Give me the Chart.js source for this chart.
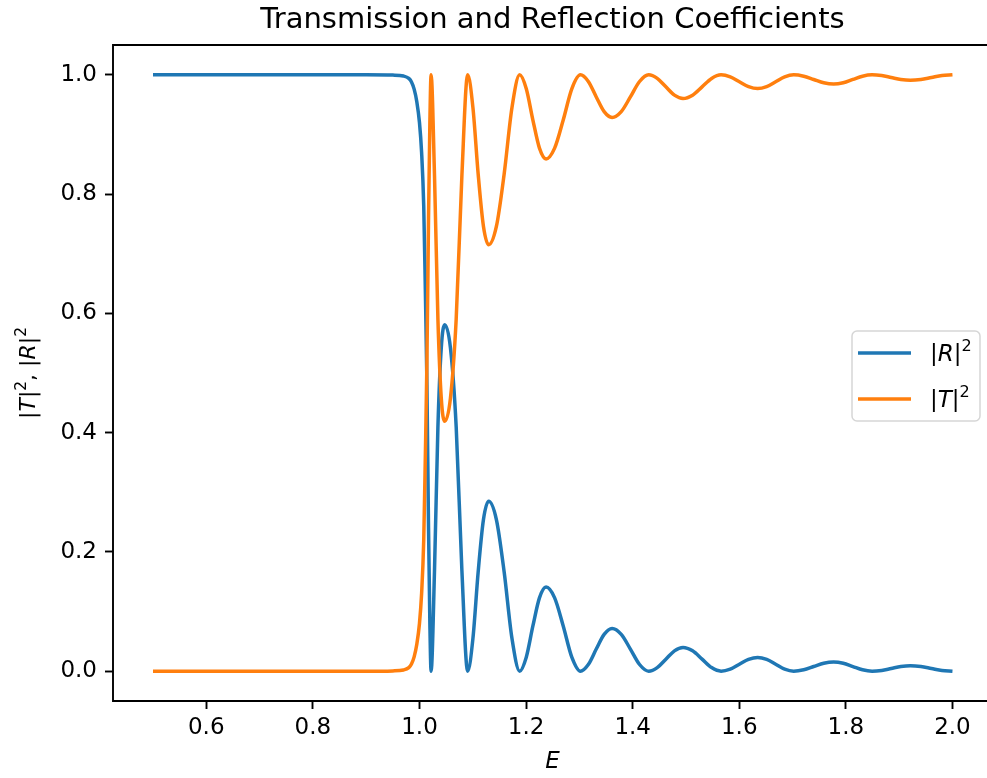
<!DOCTYPE html>
<html>
<head>
<meta charset="utf-8">
<script src="https://cdn.jsdelivr.net/npm/chart.js@4.4.1/dist/chart.umd.min.js"></script>
<style>
  body { margin: 0; overflow: hidden; background: #fff; }
</style>
</head>
<body>
<canvas id="myChart" width="987" height="778"></canvas>
<script>
// Energia (eje x) y coeficientes
var energy = [
  0.5, 0.6, 0.7, 0.8, 0.9, 0.95, 0.97, 0.98, 0.985, 0.99, 0.995, 1.0, 1.004, 1.008, 1.011, 1.014, 1.017, 1.0195, 1.0218,
  1.0282, 1.0346, 1.0409, 1.0473, 1.0581, 1.0689, 1.0796, 1.0904,
  1.1003, 1.1101, 1.12, 1.1298, 1.1444, 1.1589, 1.1735, 1.188,
  1.2004, 1.2128, 1.2251, 1.2375, 1.2536, 1.2697, 1.2858, 1.3019,
  1.3168, 1.3317, 1.3465, 1.3614, 1.3786, 1.3957, 1.4129, 1.43,
  1.4461, 1.4623, 1.4784, 1.4945, 1.5124, 1.5302, 1.5481, 1.5659,
  1.5831, 1.6002, 1.6174, 1.6345, 1.6514, 1.6683, 1.6852, 1.7021,
  1.7209, 1.7396, 1.7584, 1.7771, 1.7951, 1.8132, 1.8312, 1.8492,
  1.8672, 1.8851, 1.9031, 1.921, 1.9408, 1.9605, 1.9803, 2.0
];

var reflection = [
  1, 1, 1, 1, 1, 0.9995, 0.998, 0.994, 0.988, 0.976, 0.955, 0.92, 0.87, 0.78, 0.64, 0.48, 0.24, 0.08, 0.0,
  0.1688, 0.4095, 0.5421, 0.581, 0.5421, 0.4095, 0.1688, 0,
  0.0551, 0.1662, 0.2539, 0.285, 0.2539, 0.1662, 0.0551, 0,
  0.0235, 0.0758, 0.1229, 0.141, 0.1229, 0.0758, 0.0235, 0,
  0.0112, 0.0371, 0.0617, 0.0715, 0.0617, 0.0371, 0.0112, 0,
  0.006, 0.0202, 0.0341, 0.0397, 0.0341, 0.0202, 0.006, 0,
  0.0034, 0.0116, 0.0197, 0.023, 0.0197, 0.0116, 0.0034, 0,
  0.0023, 0.0078, 0.0134, 0.0156, 0.0134, 0.0078, 0.0023, 0,
  0.0013, 0.0045, 0.0077, 0.009, 0.0077, 0.0045, 0.0013, 0
];

var transmission = [
  0, 0, 0, 0, 0, 0.0005, 0.002, 0.006, 0.012, 0.024, 0.045, 0.08, 0.13, 0.22, 0.36, 0.52, 0.76, 0.92, 1.0,
  0.8312, 0.5905, 0.4579, 0.419, 0.4579, 0.5905, 0.8312, 1,
  0.9449, 0.8338, 0.7461, 0.715, 0.7461, 0.8338, 0.9449, 1,
  0.9765, 0.9242, 0.8771, 0.859, 0.8771, 0.9242, 0.9765, 1,
  0.9888, 0.9629, 0.9383, 0.9285, 0.9383, 0.9629, 0.9888, 1,
  0.994, 0.9798, 0.9659, 0.9603, 0.9659, 0.9798, 0.994, 1,
  0.9966, 0.9884, 0.9803, 0.977, 0.9803, 0.9884, 0.9966, 1,
  0.9977, 0.9922, 0.9866, 0.9844, 0.9866, 0.9922, 0.9977, 1,
  0.9987, 0.9955, 0.9923, 0.991, 0.9923, 0.9955, 0.9987, 1
];

var xTickValues = [0.6, 0.8, 1.0, 1.2, 1.4, 1.6, 1.8, 2.0];
var yTickValues = [0.0, 0.2, 0.4, 0.6, 0.8, 1.0];

var FONT = '"DejaVu Sans", "Liberation Sans", sans-serif';

function toPoints(ys) {
  return energy.map(function (e, i) { return { x: e, y: ys[i] }; });
}

// texto tipo mathtext: partes normales, cursivas y superindices
function mathWidth(ctx, parts, size) {
  var w = 0;
  parts.forEach(function (p) {
    ctx.font = (p.it ? "italic " : "") + (p.sup ? size * 0.7 : size) + "px " + FONT;
    w += ctx.measureText(p.t).width;
  });
  return w;
}
function drawMath(ctx, parts, x, y, size) {
  ctx.textAlign = "left";
  ctx.textBaseline = "alphabetic";
  parts.forEach(function (p) {
    ctx.font = (p.it ? "italic " : "") + (p.sup ? size * 0.7 : size) + "px " + FONT;
    ctx.fillText(p.t, x, p.sup ? y - size * 0.42 : y);
    x += ctx.measureText(p.t).width;
  });
}

var labelR = [{ t: "|" }, { t: "R", it: true }, { t: "|" }, { t: "2", sup: true }];
var labelT = [{ t: "|" }, { t: "T", it: true }, { t: "|" }, { t: "2", sup: true }];
var labelY = [{ t: "|" }, { t: "T", it: true }, { t: "|" }, { t: "2", sup: true }, { t: ", " },
              { t: "|" }, { t: "R", it: true }, { t: "|" }, { t: "2", sup: true }];

var decor = {
  id: "decor",
  afterDraw: function (chart) {
    var ctx = chart.ctx;
    var a = chart.chartArea;
    ctx.save();
    // marco (el lado derecho queda fuera de la imagen)
    ctx.strokeStyle = "#000";
    ctx.lineWidth = 1.9;
    ctx.beginPath();
    ctx.moveTo(a.right + 2, a.top);
    ctx.lineTo(a.left, a.top);
    ctx.lineTo(a.left, a.bottom);
    ctx.lineTo(a.right + 2, a.bottom);
    ctx.stroke();

    // titulo
    ctx.fillStyle = "#000";
    ctx.font = "29px " + FONT;
    ctx.textAlign = "center";
    ctx.textBaseline = "alphabetic";
    ctx.fillText("Transmission and Reflection Coefficients", 552.5, 28);

    // etiqueta x
    ctx.font = "italic 23px " + FONT;
    ctx.fillText("E", 552.5, 768);

    // etiqueta y
    ctx.save();
    ctx.translate(35, (a.top + a.bottom) / 2);
    ctx.rotate(-Math.PI / 2);
    var wy = mathWidth(ctx, labelY, 22);
    drawMath(ctx, labelY, -wy / 2, 0, 22);
    ctx.restore();

    // leyenda
    var lx = 852, ly = 331, lw = 128, lh = 90;
    ctx.beginPath();
    ctx.roundRect(lx, ly, lw, lh, 5);
    ctx.fillStyle = "rgba(255,255,255,0.8)";
    ctx.fill();
    ctx.strokeStyle = "#d6d6d6";
    ctx.lineWidth = 1.5;
    ctx.stroke();
    var entries = [labelR, labelT];
    chart.data.datasets.forEach(function (ds, i) {
      var yy = ly + 22 + i * 46;
      ctx.strokeStyle = ds.borderColor;
      ctx.lineWidth = 3.5;
      ctx.beginPath();
      ctx.moveTo(lx + 6, yy);
      ctx.lineTo(lx + 59, yy);
      ctx.stroke();
      ctx.fillStyle = "#000";
      drawMath(ctx, entries[i], lx + 78, yy + 8, 23);
    });
    ctx.restore();
  }
};

var ctx = document.getElementById("myChart").getContext("2d");
var myChart = new Chart(ctx, {
  type: "line",
  data: {
    datasets: [
      {
        label: "|R|^2",
        data: toPoints(reflection),
        borderColor: "#1f77b4",
        order: 1
      },
      {
        label: "|T|^2",
        data: toPoints(transmission),
        borderColor: "#ff7f0e",
        order: 0
      }
    ]
  },
  options: {
    responsive: false,
    animation: false,
    devicePixelRatio: 1,
    layout: { padding: { left: 0, right: 0, top: 45, bottom: 0 } },
    elements: {
      point: { radius: 0 },
      line: { borderWidth: 3.5, cubicInterpolationMode: "monotone", fill: false }
    },
    plugins: {
      legend: { display: false },
      title: { display: false },
      tooltip: { enabled: false }
    },
    scales: {
      x: {
        type: "linear",
        min: 0.425,
        max: 2.0648,
        afterBuildTicks: function (s) {
          s.ticks = xTickValues.map(function (v) { return { value: v }; });
        },
        afterFit: function (s) { s.height = 77; },
        ticks: {
          callback: function (v) { return v.toFixed(1); },
          font: { family: FONT, size: 23 },
          color: "#000",
          padding: 5,
          maxRotation: 0,
          autoSkip: false
        },
        grid: { drawOnChartArea: false, drawTicks: true, tickLength: 8, tickWidth: 1.9, tickColor: "#000" },
        border: { display: false }
      },
      y: {
        type: "linear",
        min: -0.05,
        max: 1.05,
        afterBuildTicks: function (s) {
          s.ticks = yTickValues.map(function (v) { return { value: v }; });
        },
        afterFit: function (s) { s.width = 113; },
        ticks: {
          callback: function (v) { return v.toFixed(1); },
          font: { family: FONT, size: 23 },
          color: "#000",
          padding: 8,
          autoSkip: false
        },
        grid: { drawOnChartArea: false, drawTicks: true, tickLength: 8, tickWidth: 1.9, tickColor: "#000" },
        border: { display: false }
      }
    }
  },
  plugins: [decor]
});
</script>
</body>
</html>
